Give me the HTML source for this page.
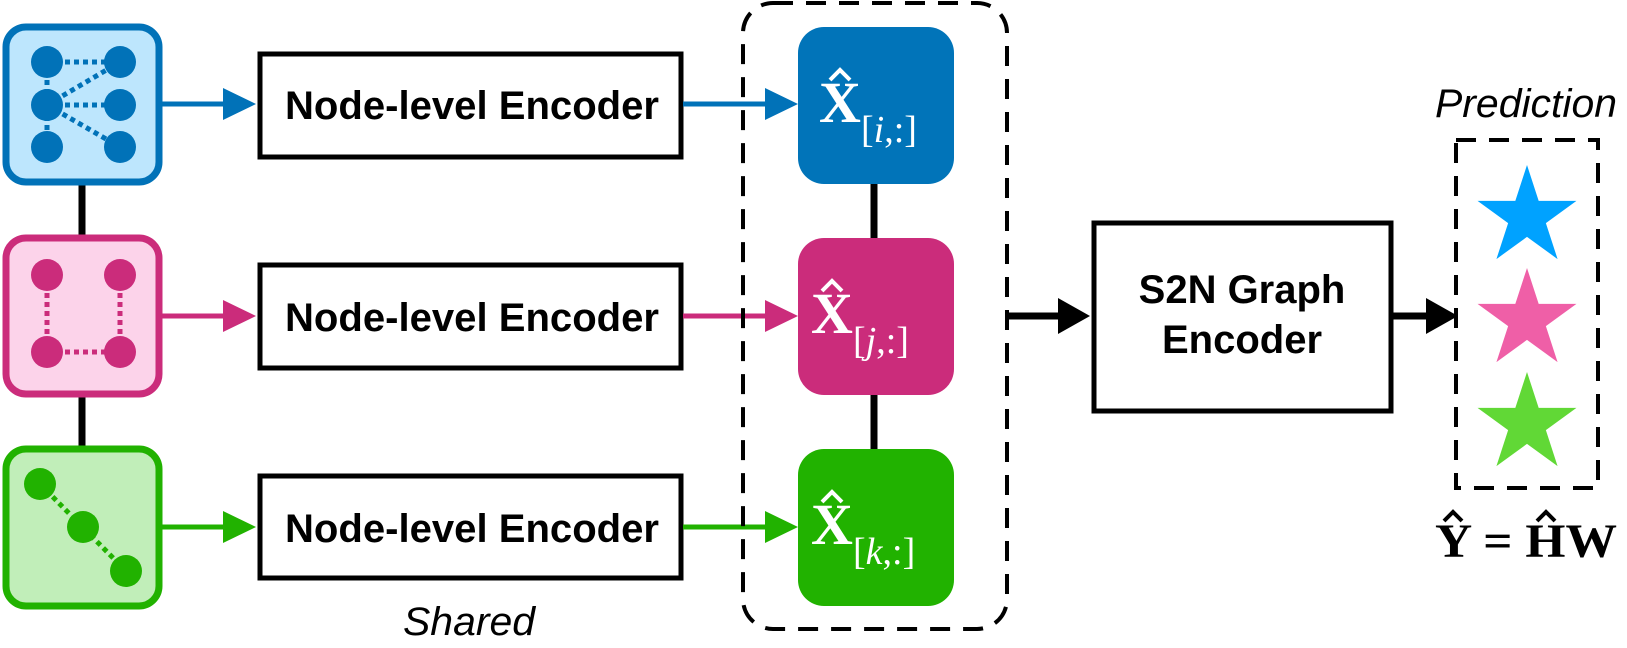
<!DOCTYPE html>
<html><head><meta charset="utf-8"><style>
html,body{margin:0;padding:0;background:#fff;}
svg{display:block;}
.enc{font-family:"Liberation Sans",sans-serif;font-size:40px;font-weight:bold;}
.ser{font-family:"Liberation Serif",serif;fill:#fff;}
</style></head><body>
<svg width="1627" height="648" viewBox="0 0 1627 648" xmlns="http://www.w3.org/2000/svg">
<defs>
<polygon id="star" points="0,-1 0.2245,-0.309 0.951,-0.309 0.363,0.118 0.588,0.809 0,0.382 -0.588,0.809 -0.363,0.118 -0.951,-0.309 -0.2245,-0.309"/>
</defs>
<line x1="82" y1="185" x2="82" y2="236" stroke="#000" stroke-width="7"/>
<line x1="82" y1="397" x2="82" y2="447" stroke="#000" stroke-width="7"/>
<rect x="6" y="27" width="153" height="155" rx="20" fill="#bde6fd" stroke="#0172b8" stroke-width="7"/>
<rect x="6" y="238" width="153" height="156" rx="20" fill="#fcd3ea" stroke="#cb2c7b" stroke-width="7"/>
<rect x="6" y="449" width="153" height="157" rx="20" fill="#c1eeb9" stroke="#21b200" stroke-width="7"/>
<g stroke="#0172b8" stroke-width="5" stroke-dasharray="5,4">
<line x1="47" y1="62" x2="120" y2="62"/>
<line x1="47" y1="105" x2="120" y2="62"/>
<line x1="47" y1="105" x2="120" y2="105"/>
<line x1="47" y1="105" x2="120" y2="147"/>
<line x1="47" y1="62" x2="47" y2="147"/>
</g>
<g fill="#0172b8">
<ellipse cx="47" cy="62" rx="16" ry="16"/><ellipse cx="47" cy="105" rx="16" ry="16"/><ellipse cx="47" cy="147" rx="16" ry="16"/>
<ellipse cx="120" cy="62" rx="16" ry="16"/><ellipse cx="120" cy="105" rx="16" ry="16"/><ellipse cx="120" cy="147" rx="16" ry="16"/>
</g>
<g stroke="#cb2c7b" stroke-width="5" stroke-dasharray="5,4">
<line x1="47" y1="275" x2="47" y2="352"/>
<line x1="120" y1="275" x2="120" y2="352"/>
<line x1="47" y1="352" x2="120" y2="352"/>
</g>
<g fill="#cb2c7b">
<ellipse cx="47" cy="275" rx="16" ry="16"/><ellipse cx="120" cy="275" rx="16" ry="16"/>
<ellipse cx="47" cy="352" rx="16" ry="16"/><ellipse cx="120" cy="352" rx="16" ry="16"/>
</g>
<g stroke="#21b200" stroke-width="5" stroke-dasharray="5,4">
<line x1="40" y1="484" x2="126" y2="571"/>
</g>
<g fill="#21b200">
<ellipse cx="40" cy="484" rx="16" ry="16"/><ellipse cx="83" cy="527" rx="16" ry="16"/><ellipse cx="126" cy="571" rx="16" ry="16"/>
</g>
<line x1="162" y1="104" x2="225" y2="104" stroke="#0172b8" stroke-width="5"/>
<polygon points="223,88 256,104 223,120" fill="#0172b8"/>
<line x1="162" y1="316" x2="225" y2="316" stroke="#cb2c7b" stroke-width="5"/>
<polygon points="223,300 256,316 223,332" fill="#cb2c7b"/>
<line x1="162" y1="527" x2="225" y2="527" stroke="#21b200" stroke-width="5"/>
<polygon points="223,511 256,527 223,543" fill="#21b200"/>
<g fill="#fff" stroke="#000" stroke-width="5">
<rect x="260" y="54" width="421" height="103"/>
<rect x="260" y="265" width="421" height="103"/>
<rect x="260" y="476" width="421" height="102"/>
</g>
<text class="enc" x="285" y="119" textLength="374" lengthAdjust="spacingAndGlyphs">Node-level Encoder</text>
<text class="enc" x="285" y="331" textLength="374" lengthAdjust="spacingAndGlyphs">Node-level Encoder</text>
<text class="enc" x="285" y="542" textLength="374" lengthAdjust="spacingAndGlyphs">Node-level Encoder</text>
<text x="403" y="635" font-family="Liberation Sans,sans-serif" font-size="40" font-style="italic" textLength="132" lengthAdjust="spacingAndGlyphs">Shared</text>
<line x1="683" y1="104" x2="768" y2="104" stroke="#0172b8" stroke-width="5"/>
<polygon points="765,88 798,104 765,120" fill="#0172b8"/>
<line x1="683" y1="316" x2="768" y2="316" stroke="#cb2c7b" stroke-width="5"/>
<polygon points="765,300 798,316 765,332" fill="#cb2c7b"/>
<line x1="683" y1="527" x2="768" y2="527" stroke="#21b200" stroke-width="5"/>
<polygon points="765,511 798,527 765,543" fill="#21b200"/>
<rect x="743" y="3" width="264" height="626" rx="30" fill="none" stroke="#000" stroke-width="4" stroke-dasharray="20,13"/>
<line x1="874" y1="184" x2="874" y2="238" stroke="#000" stroke-width="7"/>
<line x1="874" y1="395" x2="874" y2="449" stroke="#000" stroke-width="7"/>
<rect x="798" y="27" width="156" height="157" rx="26" fill="#0174b9"/>
<rect x="798" y="238" width="156" height="157" rx="26" fill="#cb2c7b"/>
<rect x="798" y="449" width="156" height="157" rx="26" fill="#21b200"/>
<g class="ser">
<text x="819" y="122" font-size="58" font-weight="bold">X</text>
<text x="861" y="142" font-size="38">[<tspan font-style="italic">i</tspan>,:]</text>
<text x="811" y="333" font-size="58" font-weight="bold">X</text>
<text x="853" y="353" font-size="38">[<tspan font-style="italic">j</tspan>,:]</text>
<text x="811" y="544" font-size="58" font-weight="bold">X</text>
<text x="853" y="564" font-size="38">[<tspan font-style="italic">k</tspan>,:]</text>
</g>
<g fill="none" stroke="#fff" stroke-width="4" stroke-linejoin="miter">
<polyline points="830,80 840,70 850,80"/>
<polyline points="822,291 832,281 842,291"/>
<polyline points="822,502 832,492 842,502"/>
</g>
<line x1="1007" y1="316" x2="1062" y2="316" stroke="#000" stroke-width="7"/>
<polygon points="1058,298 1090,316 1058,334" fill="#000"/>
<rect x="1094" y="223" width="297" height="188" fill="#fff" stroke="#000" stroke-width="5"/>
<text class="enc" x="1242" y="303" text-anchor="middle" font-size="41">S2N Graph</text>
<text class="enc" x="1242" y="353" text-anchor="middle" font-size="41">Encoder</text>
<line x1="1392" y1="316" x2="1430" y2="316" stroke="#000" stroke-width="7"/>
<polygon points="1426,298 1458,316 1426,334" fill="#000"/>
<text x="1435" y="117" font-family="Liberation Sans,sans-serif" font-size="40" font-style="italic" textLength="182" lengthAdjust="spacingAndGlyphs">Prediction</text>
<rect x="1456" y="140" width="142" height="348" fill="none" stroke="#000" stroke-width="4" stroke-dasharray="20,13"/>
<use href="#star" transform="translate(1527,217) scale(52)" fill="#00a2ff"/>
<use href="#star" transform="translate(1527,320) scale(52)" fill="#ef5fa7"/>
<use href="#star" transform="translate(1527,424) scale(52)" fill="#61d836"/>
<text x="1435" y="557" font-family="Liberation Serif,serif" font-size="48" font-weight="bold" textLength="182" lengthAdjust="spacingAndGlyphs">Y = HW</text>
<g fill="none" stroke="#000" stroke-width="4">
<polyline points="1444,521 1453,512 1462,521"/>
<polyline points="1537,521 1546,512 1555,521"/>
</g>
</svg>
</body></html>
